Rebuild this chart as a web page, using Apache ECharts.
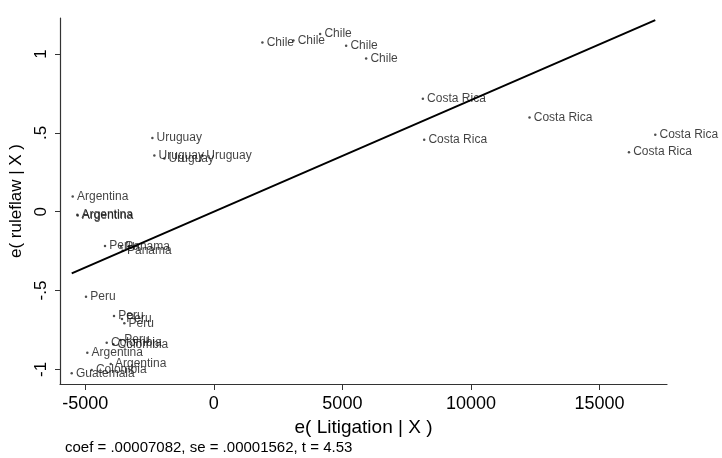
<!DOCTYPE html>
<html><head><meta charset="utf-8">
<script src="https://cdn.jsdelivr.net/npm/echarts@6/dist/echarts.min.js"></script>
<style>html,body{margin:0;padding:0;background:#fff}#c{width:722px;height:458px}</style>
</head><body><div id="c"></div>
<script>
const countries = ["Chile","Chile","Chile","Chile","Chile",
  "Costa Rica","Costa Rica","Costa Rica","Costa Rica","Costa Rica",
  "Uruguay","Uruguay","Uruguay","Uruguay",
  "Argentina","Argentina","Argentina",
  "Peru","Panama","Panama",
  "Peru","Peru","Peru","Peru","Peru",
  "Colombia","Colombia","Argentina","Argentina","Colombia","Guatemala"];
const litigationResid = [1890,3096,4135,5146,5924,
  8129,12275,8180,17164,16141,
  -2388,-2310,-1921,-455,
  -5484,-5305,-5290,
  -4228,-3606,-3540,
  -4967,-3878,-3567,-3477,-3645,
  -4162,-3905,-4916,-4006,-4746,-5523];
const ruleflawResid = [1.074,1.086,1.127,1.053,0.972,
  0.716,0.597,0.456,0.488,0.378,
  0.467,0.356,0.337,0.356,
  0.096,-0.020,-0.024,
  -0.217,-0.222,-0.247,
  -0.539,-0.662,-0.681,-0.708,-0.814,
  -0.831,-0.841,-0.895,-0.966,-1.004,-1.025];
const xTicks = [-5000,0,5000,10000,15000];
const xTickLabels = ["-5000","0","5000","10000","15000"];
const yTicks = [-1,-0.5,0,0.5,1];
const yTickLabels = ["-1","-.5","0",".5","1"];
const coef = 0.00007082;
const noteText = "coef = .00007082, se = .00001562, t = 4.53";

const FONT = "Liberation Sans, Arial, sans-serif";
const pts = litigationResid.map((x,i)=>({value:[x, ruleflawResid[i]], name:countries[i]}));
const xMinD = Math.min(...litigationResid), xMaxD = Math.max(...litigationResid);
const fit = [[xMinD, coef*xMinD],[xMaxD, coef*xMaxD]];
const pick = (ticks, labels) => v => {const i=ticks.findIndex(t=>Math.abs(t-v)<1e-9);return i>=0?labels[i]:'';};

const chart = echarts.init(document.getElementById('c'), null, {renderer:'canvas'});
chart.setOption({
  animation:false,
  backgroundColor:'#fff',
  title:{text:noteText, left:60, top:435, textStyle:{fontFamily:FONT, fontSize:15, fontWeight:'normal', color:'#000'}},
  grid:{left:60, right:55, top:18, bottom:74},
  xAxis:{type:'value', min:-5978, max:17620,
    name:'e( Litigation | X )', nameLocation:'middle', nameGap:28,
    nameTextStyle:{fontFamily:FONT, fontSize:19, color:'#000'},
    axisLine:{show:true, onZero:false, lineStyle:{color:'#333', width:1.2}},
    axisTick:{show:true, length:6, customValues:xTicks, lineStyle:{color:'#333'}},
    axisLabel:{customValues:xTicks, margin:11, fontFamily:FONT, fontSize:18, color:'#000',
      formatter:pick(xTicks, xTickLabels)},
    splitLine:{show:false}},
  yAxis:{type:'value', min:-1.093, max:1.229,
    name:'e( ruleflaw | X )', nameLocation:'middle', nameGap:28,
    nameTextStyle:{fontFamily:FONT, fontSize:17, color:'#000'},
    axisLine:{show:true, onZero:false, lineStyle:{color:'#333', width:1.2}},
    axisTick:{show:true, length:5, customValues:yTicks, lineStyle:{color:'#333'}},
    axisLabel:{customValues:yTicks, rotate:90, margin:10, fontFamily:FONT, fontSize:17, color:'#000',
      formatter:pick(yTicks, yTickLabels)},
    splitLine:{show:false}},
  series:[
    {type:'line', data:fit, showSymbol:false, lineStyle:{color:'#000', width:2}, z:3, silent:true},
    {type:'scatter', data:pts, symbol:'circle', symbolSize:2.5, itemStyle:{color:'#222'}, z:2,
      label:{show:true, position:'right', distance:3, formatter:p=>p.name,
        fontFamily:FONT, fontSize:12, color:'#111'}}
  ]
});
</script></body></html>
